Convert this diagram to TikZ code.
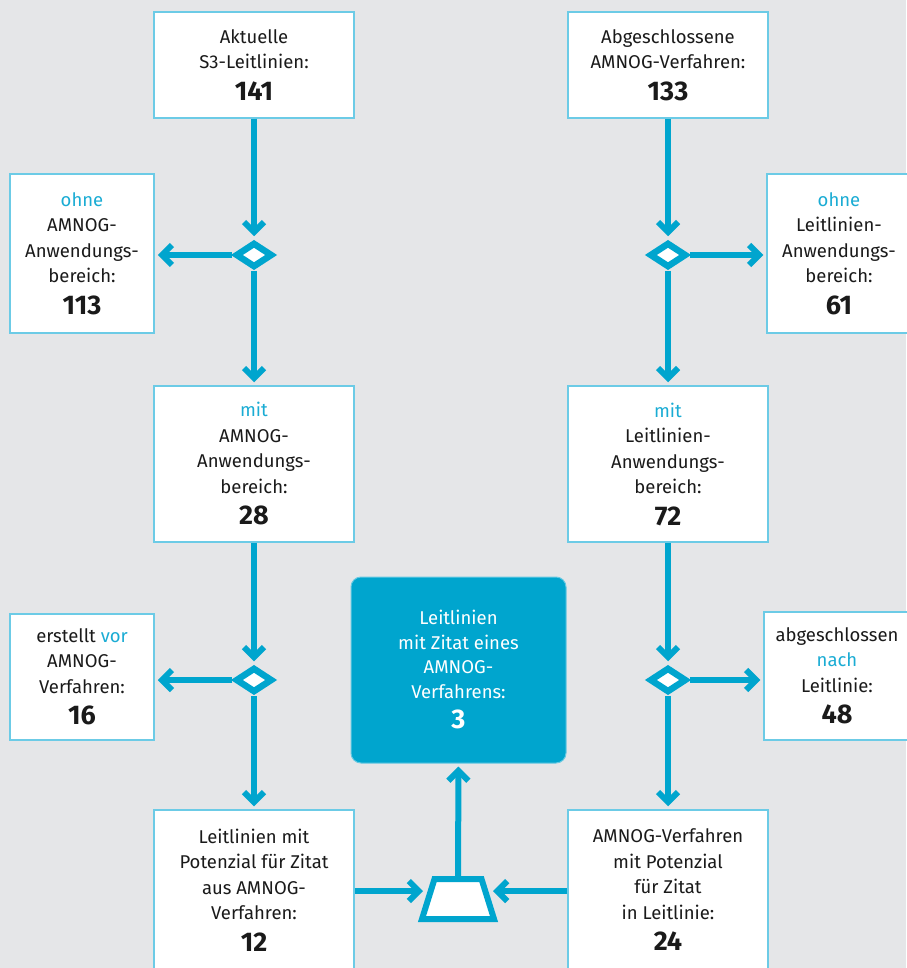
\documentclass[tikz,border=0pt]{standalone}
\usepackage{fontspec}
\setmainfont{Fira Sans}
\usetikzlibrary{arrows.meta,shapes.geometric}
\definecolor{bg}{HTML}{E5E6E8}
\definecolor{ablue}{HTML}{00A5CE}
\definecolor{bline}{HTML}{6CCBE6}
\definecolor{tblue}{HTML}{1AACD4}
\definecolor{ink}{HTML}{1A1A1A}
\newcommand{\bignum}[1]{\\[6pt]{\fontsize{27}{28}\selectfont\bfseries #1}}
\newcommand{\hl}[1]{\textcolor{tblue}{#1}}
\begin{document}
\begin{tikzpicture}[x=1pt,y=-1pt,
  box/.style={draw=bline, fill=white, line width=1.5pt, align=center, inner sep=0pt,
    text=ink, font=\fontsize{18.5}{25.5}\selectfont},
  dec/.style={diamond, draw=ablue, fill=white, line width=6.5pt, minimum width=37pt,
    minimum height=25pt, inner sep=0pt},
  flow/.style={draw=ablue, line width=6pt, shorten >=3pt,
    -{Straight Barb[length=10pt,width=20pt]}},
  result/.style={fill=ablue, draw=ablue!60!white, line width=1pt, rounded corners=10pt,
    align=center, inner sep=0pt, text=white, font=\fontsize{18.5}{24.5}\selectfont},
  merge/.style={draw=ablue, fill=white, line width=6pt, line join=miter}
]
\useasboundingbox (0,0) rectangle (906,968);
\fill[bg] (0,0) rectangle (906,968);

\node[box, minimum width=200pt, minimum height=106pt] (A) at (254,65)
  {Aktuelle\\S3-Leitlinien:\bignum{141}};
\node[box, minimum width=200pt, minimum height=106pt] (B) at (668,65)
  {Abgeschlossene\\AMNOG-Verfahren:\bignum{133}};
\node[box, minimum width=144pt, minimum height=159pt] (oL) at (82,253.5)
  {\hl{ohne}\\AMNOG-\\Anwendungs-\\bereich:\bignum{113}};
\node[box, minimum width=144pt, minimum height=159pt] (oR) at (839,253.5)
  {\hl{ohne}\\Leitlinien-\\Anwendungs-\\bereich:\bignum{61}};
\node[box, minimum width=200pt, minimum height=156pt] (mL) at (254,464)
  {\hl{mit}\\AMNOG-\\Anwendungs-\\bereich:\bignum{28}};
\node[box, minimum width=200pt, minimum height=156pt] (mR) at (668,464)
  {\hl{mit}\\Leitlinien-\\Anwendungs-\\bereich:\bignum{72}};
\node[box, minimum width=144pt, minimum height=126pt] (vL) at (82,677)
  {erstellt \hl{vor}\\AMNOG-\\Verfahren:\bignum{16}};
\node[box, minimum width=146pt, minimum height=128pt] (nR) at (837,676)
  {abgeschlossen\\\hl{nach}\\Leitlinie:\bignum{48}};
\node[box, minimum width=200pt, minimum height=160pt] (pL) at (254,890)
  {Leitlinien mit\\Potenzial für Zitat\\aus AMNOG-\\Verfahren:\bignum{12}};
\node[box, minimum width=200pt, minimum height=160pt] (pR) at (668,890)
  {AMNOG-Verfahren\\mit Potenzial\\für Zitat\\in Leitlinie:\bignum{24}};
\node[result, minimum width=215pt, minimum height=186pt] (res) at (458.5,670)
  {Leitlinien\\mit Zitat eines\\AMNOG-\\Verfahrens:\bignum{3}};

\node[dec] (d1) at (254,255) {};
\node[dec] (d2) at (668,255) {};
\node[dec] (d3) at (254,680) {};
\node[dec] (d4) at (668,680) {};

% merge trapezoid
\draw[merge] (434.5,879) -- (481.5,879) -- (494,919) -- (422,919) -- cycle;
\coordinate (tN) at (458,876);
\coordinate (tW) at (426,891);
\coordinate (tE) at (490,891);

\draw[flow] (A) -- (d1);
\draw[flow] (d1) -- (mL);
\draw[flow] (d1.west) -- (d1.west -| oL.east);
\draw[flow] (mL) -- (d3);
\draw[flow] (d3) -- (pL);
\draw[flow] (d3.west) -- (d3.west -| vL.east);
\draw[flow] (B) -- (d2);
\draw[flow] (d2) -- (mR);
\draw[flow] (d2.east) -- (d2.east -| oR.west);
\draw[flow] (mR) -- (d4);
\draw[flow] (d4) -- (pR);
\draw[flow] (d4.east) -- (d4.east -| nR.west);
\draw[flow] (pL.east |- tW) -- (tW);
\draw[flow] (pR.west |- tE) -- (tE);
\draw[flow, shorten <=0pt] (tN) -- (res.south);
\end{tikzpicture}
\end{document}
